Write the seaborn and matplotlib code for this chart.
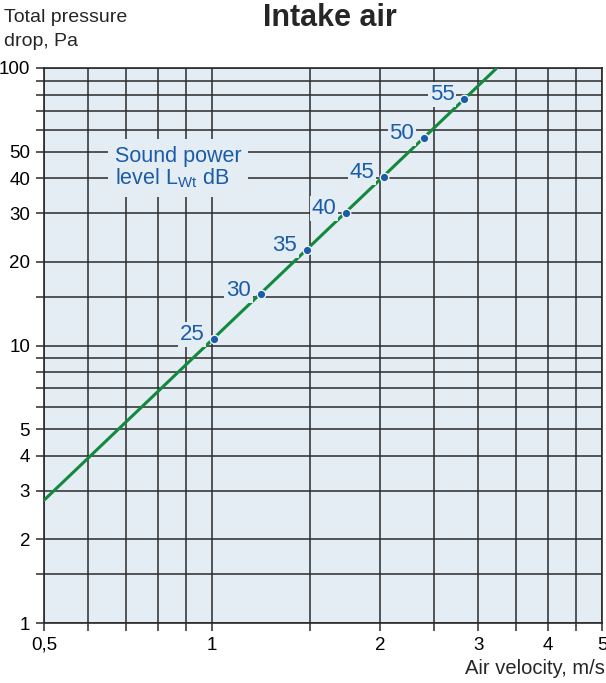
import matplotlib
matplotlib.use("Agg")
import matplotlib.pyplot as plt
import seaborn as sns
import pandas as pd
from matplotlib.ticker import FixedLocator, FixedFormatter, NullFormatter

# ---- data ----
line_velocity = [0.5, 3.24]          # m/s
line_pressure = [2.77, 100.0]        # Pa
point_velocity = [1.009, 1.224, 1.480, 1.739, 2.034, 2.399, 2.83]
point_pressure = [10.55, 15.3, 22.1, 30.0, 40.5, 55.9, 77.3]
sound_levels = [25, 30, 35, 40, 45, 50, 55]

x_major = [0.5, 1, 2, 3, 4, 5]
x_major_labels = ["0,5", "1", "2", "3", "4", "5"]
x_minor = [0.6, 0.7, 0.8, 0.9, 1.5, 2.5, 3.5, 4.5]
y_major = [1, 2, 3, 4, 5, 10, 20, 30, 40, 50, 100]
y_major_labels = ["1", "2", "3", "4", "5", "10", "20", "30", "40", "50", "100"]
y_minor = [1.5, 6, 7, 8, 9, 15, 60, 70, 80, 90]

line_df = pd.DataFrame({"v": line_velocity, "p": line_pressure})
pts_df = pd.DataFrame({"v": point_velocity, "p": point_pressure, "L": sound_levels})

sns.set_theme(style="ticks")
plt.rcParams["font.family"] = ["Liberation Sans", "DejaVu Sans"]
plt.rcParams["mathtext.fontset"] = "custom"
plt.rcParams["mathtext.rm"] = "Liberation Sans"
plt.rcParams["mathtext.it"] = "Liberation Sans"
plt.rcParams["mathtext.default"] = "regular"

BG = "#e4ecf4"
GRID = "#2a2a2a"
GREEN = "#12893c"
BLUE = "#1a5ca8"

fig = plt.figure(figsize=(6.06, 6.83), dpi=100)
ax = fig.add_axes([44 / 606, 1 - 623 / 683, 558 / 606, 555 / 683])
ax.set_facecolor(BG)
ax.set_xscale("log")
ax.set_yscale("log")
ax.set_xlim(0.5, 5)
ax.set_ylim(1, 100)

ax.xaxis.set_major_locator(FixedLocator(x_major))
ax.xaxis.set_major_formatter(FixedFormatter(x_major_labels))
ax.xaxis.set_minor_locator(FixedLocator(x_minor))
ax.xaxis.set_minor_formatter(NullFormatter())
ax.yaxis.set_major_locator(FixedLocator(y_major))
ax.yaxis.set_major_formatter(FixedFormatter(y_major_labels))
ax.yaxis.set_minor_locator(FixedLocator(y_minor))
ax.yaxis.set_minor_formatter(NullFormatter())

ax.grid(True, which="both", color=GRID, linewidth=1.1, zorder=1)
ax.set_axisbelow(True)
ax.tick_params(which="both", length=6, width=1.1, color=GRID, direction="out",
               labelsize=13.5, colors="black", pad=4)
for s in ax.spines.values():
    s.set_color(GRID)
    s.set_linewidth(1.2)

sns.lineplot(data=line_df, x="v", y="p", ax=ax, color=GREEN, linewidth=2.2,
             zorder=3, legend=False)
sns.scatterplot(data=pts_df, x="v", y="p", ax=ax, color=BLUE, s=38,
                edgecolor="#f0f4fa", linewidth=1.0, zorder=4, legend=False)

for v, p, L in zip(point_velocity, point_pressure, sound_levels):
    ax.annotate(str(L), xy=(v, p), xytext=(-7, 3), textcoords="offset points",
                ha="right", va="center", fontsize=16, color=BLUE, zorder=5,
                bbox=dict(facecolor=BG, edgecolor="none", pad=1.5))

ax.text(0.67, 52.5, "Sound power\nlevel L$_{Wt}$ dB", ha="left", va="top",
        fontsize=15.5, color=BLUE, linespacing=1.0, zorder=5,
        bbox=dict(facecolor=BG, edgecolor="none", pad=5))

ax.set_xlabel("")
ax.set_ylabel("")

fig.text(4 / 606, 1 - 9 / 683, "Total pressure\ndrop, Pa", ha="left", va="top",
         fontsize=14, linespacing=1.5)
fig.text(330 / 606, 1 - 18 / 683, "Intake air", ha="center", va="center",
         fontsize=22, fontweight="bold")
fig.text(605 / 606, 1 - 668 / 683, "Air velocity, m/s", ha="right", va="center",
         fontsize=14.5)

fig.savefig("out.png", dpi=100, facecolor="white")
